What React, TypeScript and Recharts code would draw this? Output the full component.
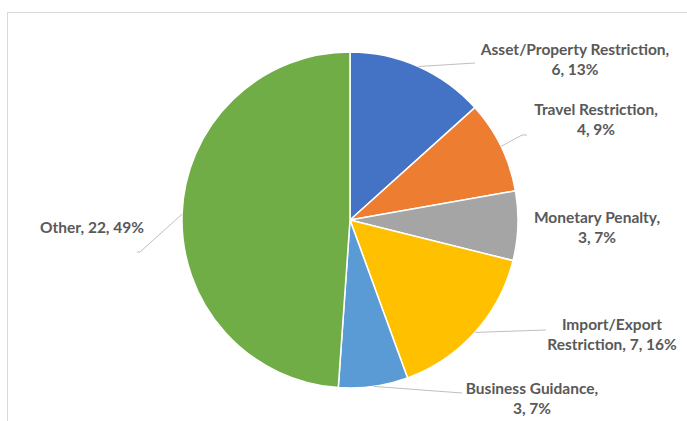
import React from "react";
import { PieChart, Pie, Cell } from "recharts";

const categories = [
  "Asset/Property Restriction",
  "Travel Restriction",
  "Monetary Penalty",
  "Import/Export Restriction",
  "Business Guidance",
  "Other",
];
const counts = [6, 4, 3, 7, 3, 22];
const percents = ["13%", "9%", "7%", "16%", "7%", "49%"];
const labelLines: string[][] = [
  ["Asset/Property Restriction,", "6, 13%"],
  ["Travel Restriction,", "4, 9%"],
  ["Monetary Penalty,", "3, 7%"],
  ["Import/Export", "Restriction, 7, 16%"],
  ["Business Guidance,", "3, 7%"],
  ["Other, 22, 49%"],
];

const COLORS = ["#4472C4", "#ED7D31", "#A5A5A5", "#FFC000", "#5B9BD5", "#70AD47"];

// label placement (offsets from pie center), styling only
const LABEL_LAYOUT = [
  { tx: 225, ty: -170, leader: [[125, -157]] },
  { tx: 246, ty: -110, leader: [[172, -85], [177, -85]] },
  { tx: 247, ty: -2, leader: [] as number[][] },
  { tx: 262, ty: 105, leader: [[196, 110]] },
  { tx: 182, ty: 169, leader: [[112, 173]] },
  { tx: -258, ty: 8, leader: [[-210, 32], [-213, 32]] },
];

const data = categories.map((name, i) => ({
  name,
  value: counts[i],
  pct: percents[i],
}));

const RAD = Math.PI / 180;

const renderLabel = (props: any) => {
  const { cx, cy, midAngle, outerRadius, index } = props;
  const L = LABEL_LAYOUT[index];
  const lines = labelLines[index];
  const sx = cx + outerRadius * Math.cos(-midAngle * RAD);
  const sy = cy + outerRadius * Math.sin(-midAngle * RAD);
  const pts = [[sx, sy], ...L.leader.map(([dx, dy]) => [cx + dx, cy + dy])];
  return (
    <g key={`lbl-${index}`}>
      {L.leader.length > 0 && (
        <polyline
          points={pts.map((p) => p.join(",")).join(" ")}
          fill="none"
          stroke="#BFBFBF"
          strokeWidth={1}
        />
      )}
      <text
        x={cx + L.tx}
        y={cy + L.ty}
        textAnchor="middle"
        fill="#595959"
        fontFamily="Lato, 'Open Sans', sans-serif"
        fontWeight={700}
        fontSize={15.5}
      >
        {lines.map((ln, i) => (
          <tspan key={i} x={cx + L.tx} dy={i === 0 ? 5 : 20}>
            {ln}
          </tspan>
        ))}
      </text>
    </g>
  );
};

export default function App() {
  return (
    <div
      style={{
        position: "absolute",
        left: 0,
        top: 0,
        width: 687,
        height: 421,
        background: "#fff",
        overflow: "hidden",
      }}
    >
      <div
        style={{
          position: "absolute",
          left: 7,
          top: 12,
          width: 700,
          height: 420,
          borderTop: "1px solid #D9D9D9",
          borderLeft: "1px solid #D9D9D9",
        }}
      />
      <div style={{ position: "absolute", left: 0, top: 0 }}>
        <PieChart
          width={687}
          height={421}
          margin={{ top: 0, right: 0, bottom: 0, left: 0 }}
        >
          <Pie
            data={data}
            dataKey="value"
            nameKey="name"
            cx={350}
            cy={220}
            outerRadius={168}
            startAngle={90}
            endAngle={-270}
            stroke="#FFFFFF"
            strokeWidth={1.5}
            label={renderLabel}
            labelLine={false}
            isAnimationActive={false}
          >
            {data.map((d, i) => (
              <Cell key={d.name} fill={COLORS[i]} />
            ))}
          </Pie>
        </PieChart>
      </div>
    </div>
  );
}
